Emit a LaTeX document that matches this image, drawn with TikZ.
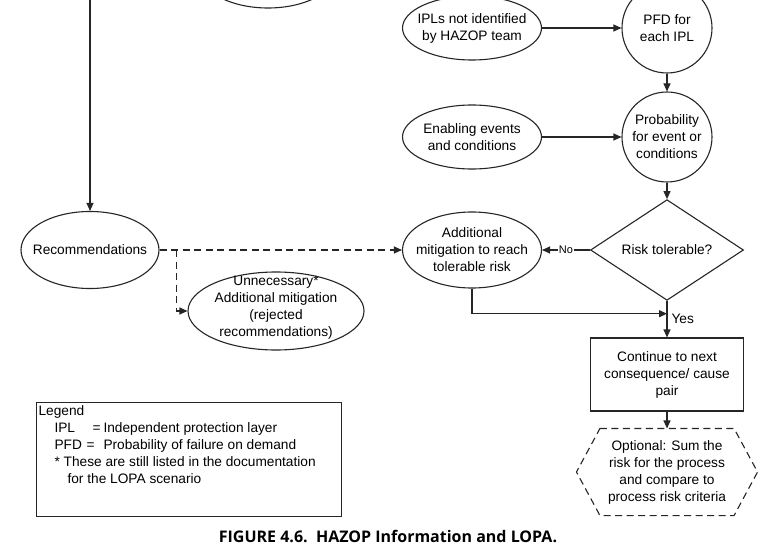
\documentclass[tikz,border=0pt]{standalone}
\usepackage{fontspec}
\setmainfont{Liberation Sans}
\newfontfamily\capfont{Open Sans}
\usetikzlibrary{shapes.geometric,arrows.meta,calc}
\begin{document}
\begin{tikzpicture}[x=1pt,y=-1pt,
  line width=1.1pt,
  every node/.style={font=\fontsize{13.7}{17}\selectfont, align=center, text=black},
  ell/.style={ellipse, draw=black!85, inner sep=0pt},
  circ/.style={circle, draw=black!85, inner sep=0pt, minimum size=90pt},
  arr/.style={draw=black!85, -{Triangle[length=8pt,width=7pt]}},
  dsh/.style={dash pattern=on 7pt off 4.5pt},
  smalltxt/.style={font=\fontsize{11}{13}\selectfont}
]
\clip (0,0) rectangle (773,545);
\fill[white] (0,0) rectangle (773,545);

% top (partly hidden) ellipse
\node[ell, minimum width=139pt, minimum height=76pt] (topel) at (268,-30) {};
\coordinate (topl) at (90,-10);

% nodes
\node[ell, minimum width=139pt, minimum height=64pt,
  label={center:IPLs not identified\\by HAZOP team}] (ipl) at (472,28) {};
\node[circ, label={center:PFD for\\each IPL}] (pfd) at (667,28) {};
\node[ell, minimum width=139pt, minimum height=64pt,
  label={center:Enabling events\\and conditions}] (ena) at (472,137) {};
\node[circ, label={center:Probability\\for event or\\conditions}] (prob) at (667,137) {};
\node[diamond, draw=black!85, inner sep=0pt, minimum width=153pt, minimum height=100pt] (dia) at (667,250) {Risk tolerable?};
\node[ell, minimum width=139pt, minimum height=76pt,
  label={center:Additional\\mitigation to reach\\tolerable risk}] (mit) at (472,250) {};
\node[ell, minimum width=138pt, minimum height=77pt,
  label={center:Recommendations}] (rec) at (90,250) {};
\node[ell, minimum width=176pt, minimum height=78pt,
  label={[yshift=3pt]center:Unnecessary*\\Additional mitigation\\(rejected\\recommendations)}] (unn) at (276,311) {};
\node[draw=black!85, inner sep=0pt, minimum width=153pt, minimum height=73pt] (box) at (667,374.5) {Continue to next\\consequence/ cause\\pair};
\node[inner sep=0pt, minimum width=133pt, minimum height=86pt] (opt) at (667,472) {Optional: Sum the\\risk for the process\\and compare to\\process risk criteria};
\draw[black!85, dsh] (opt.north west) -- (opt.north east) -- ($(opt.east)+(23.5,0)$) -- (opt.south east) -- (opt.south west) -- ($(opt.west)+(-23.5,0)$) -- cycle;

% connectors
\draw[arr] (topl) -- (rec);
\draw[arr] (ipl) -- (pfd);
\draw[arr] (pfd) -- (prob);
\draw[arr] (ena) -- (prob);
\draw[arr] (prob) -- (dia);
\draw[arr] (dia) -- (mit) node[midway, fill=white, inner sep=1pt, smalltxt] {No};
\draw[arr] (dia) -- (box) node[midway, right, inner sep=4pt] {Yes};
\coordinate (join) at ($(dia.south)!0.35!(box.north)$);
\draw[arr] (mit.south) |- (join);
\draw[arr] (box) -- (opt);
\coordinate (br) at ($(rec.east)+(17,0)$);
\draw[arr, dsh] (rec) -- (mit);
\draw[arr, dsh] (br) |- (unn);

% legend
\node[draw=black!85, line width=0.9pt, inner sep=0pt, minimum width=305pt, minimum height=114pt, anchor=north west] (legbox) at (36,402) {};
\node[anchor=north west, align=left, inner sep=0pt] (legtxt) at (38,405) {Legend\\
\hspace*{16pt}\makebox[38pt][l]{IPL}\makebox[11pt][l]{=}Independent protection layer\\
\hspace*{16pt}\makebox[32pt][l]{PFD}\makebox[17pt][l]{=}Probability of failure on demand\\
\hspace*{16pt}* These are still listed in the documentation\\
\hspace*{29pt}for the LOPA scenario};

% caption
\node[font=\capfont\bfseries\fontsize{16}{19}\selectfont] (cap) at (388,536) {FIGURE 4.6.\ \ HAZOP Information and LOPA.};
\end{tikzpicture}
\end{document}
